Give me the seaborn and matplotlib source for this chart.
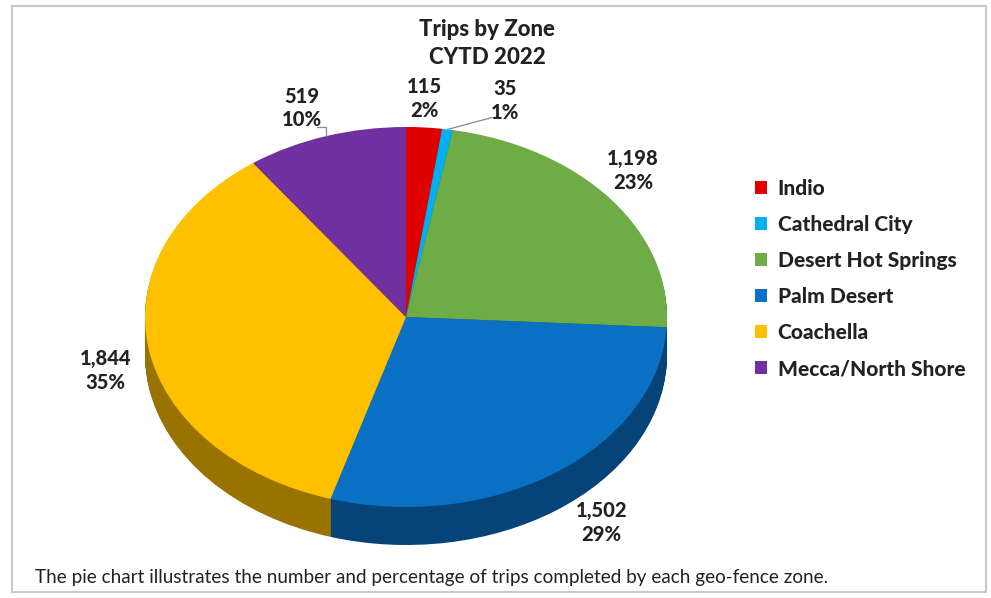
import numpy as np
import matplotlib
matplotlib.use("Agg")
import matplotlib.pyplot as plt
import matplotlib.colors as mcolors
from matplotlib.patches import Patch, Rectangle
import seaborn as sns

zones = ["Indio", "Cathedral City", "Desert Hot Springs",
         "Palm Desert", "Coachella", "Mecca/North Shore"]
trips = [115, 35, 1198, 1502, 1844, 519]
zone_colors = ["#E00000", "#00B0F0", "#6FAC46", "#0A70C4", "#FFC000", "#7030A0"]

# label anchors in pie units (x in radii, y in radii of the flattened ellipse)
label_pos = [(0.07, 1.15), (0.38, 1.14), (0.87, 0.77),
             (0.75, -1.08), (-1.15, -0.28), (-0.40, 1.10)]

sns.set_theme(style="white")
plt.rcParams["font.family"] = ["Lato", "DejaVu Sans"]

W, H = 991, 598
fig = plt.figure(figsize=(W / 100, H / 100), dpi=100)

# pie axes: the box is wider than tall so a unit circle becomes the tilted ellipse
cx, cy, rx, ry = 406, 317, 261, 190
lim = 1.3
ax = fig.add_axes([(cx - lim * rx) / W, (H - cy - lim * ry) / H,
                   2 * lim * rx / W, 2 * lim * ry / H])
depth = 38 / ry

side_colors = [tuple(c * 0.6 for c in mcolors.to_rgb(col)) for col in zone_colors]
for d in np.linspace(depth, 0, 40)[:-1]:
    ax.pie(trips, colors=side_colors, startangle=90, counterclock=False,
           radius=1, center=(0, -d), wedgeprops=dict(linewidth=0))
ax.pie(trips, colors=zone_colors, startangle=90, counterclock=False,
       radius=1, center=(0, 0), wedgeprops=dict(linewidth=0))
ax.set_aspect("auto")
ax.set_xlim(-lim, lim)
ax.set_ylim(-lim, lim)
ax.axis("off")

total = sum(trips)
for val, (lx, ly) in zip(trips, label_pos):
    ax.text(lx, ly, f"{val:,}\n{val / total:.0%}", ha="center", va="center",
            fontsize=14.5, fontweight="black", color="#222222", linespacing=1.3)

# leader lines for the two small top labels
cum = np.cumsum([0] + trips)
mid = [np.deg2rad(90 - 360 * (cum[i] + trips[i] / 2) / total) for i in range(len(trips))]
ax.plot([np.cos(mid[1]), 0.33], [np.sin(mid[1]), 1.05], color="#888888", lw=0.9)
ax.plot([np.cos(mid[5]), np.cos(mid[5]), -0.34],
        [np.sin(mid[5]), 1.0, 1.0], color="#888888", lw=0.9)

fig.text(487 / W, 1 - 30 / H, "Trips by Zone", ha="center", va="center",
         fontsize=16, fontweight="black", color="#222222")
fig.text(487 / W, 1 - 58 / H, "CYTD 2022", ha="center", va="center",
         fontsize=16, fontweight="black", color="#222222")

handles = [Patch(facecolor=c, edgecolor="none") for c in zone_colors]
fig.legend(handles, zones, loc="upper left", bbox_to_anchor=(736 / W, 1 - 160 / H),
           frameon=False, handlelength=0.6, handleheight=0.6, handletextpad=0.5,
           labelspacing=0.82, prop=dict(size=15, weight="black"), labelcolor="#222222")

fig.text(35 / W, 1 - 578 / H,
         "The pie chart illustrates the number and percentage of trips completed by each geo-fence zone.",
         ha="left", va="center", fontsize=13.6, color="#222222")

fig.patches.append(Rectangle((12 / W, 6 / H), 974 / W, 586 / H, transform=fig.transFigure,
                             fill=False, edgecolor="#C8C8C8", lw=1.5))

fig.savefig("out.png", dpi=100)
